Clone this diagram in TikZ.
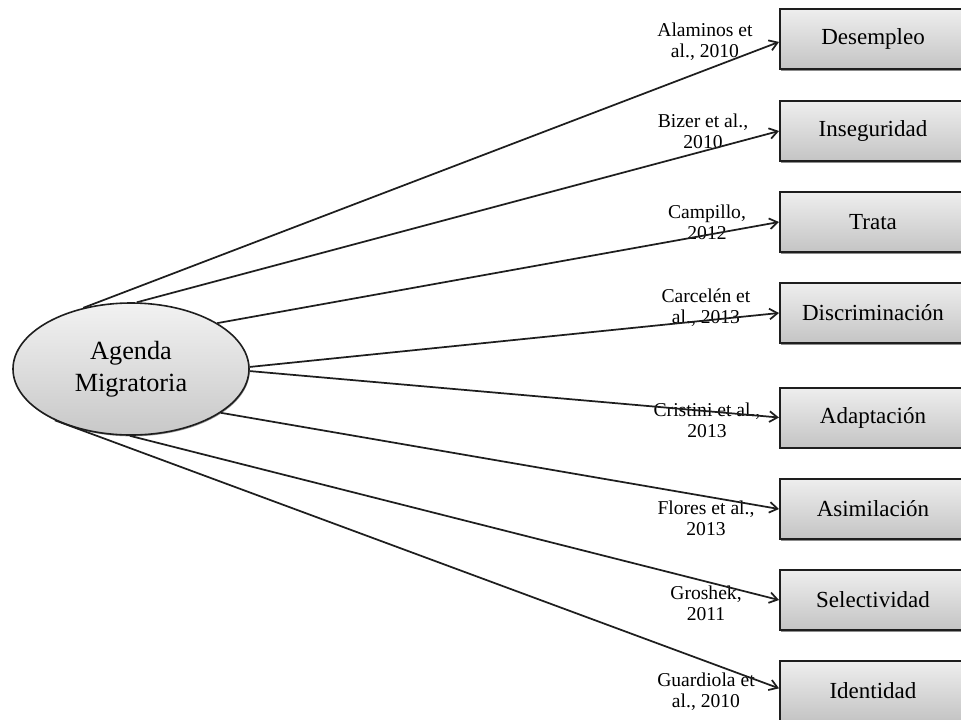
\documentclass[tikz,border=0pt]{standalone}
\usepackage{fontspec}
\setmainfont{Liberation Serif}
\usetikzlibrary{arrows.meta,shapes.geometric,shadows}
\definecolor{boxtop}{RGB}{238,238,238}
\definecolor{boxbot}{RGB}{196,196,196}
\definecolor{elltop}{RGB}{242,242,242}
\definecolor{ellbot}{RGB}{200,200,200}
\definecolor{inkline}{RGB}{30,30,30}
\tikzset{
  topic/.style={rectangle, draw=inkline, line width=1.5pt, inner sep=0pt,
    minimum width=139.5pt, minimum height=45pt,
    top color=boxtop, bottom color=boxbot,
    drop shadow={shadow xshift=0.8pt, shadow yshift=-1.2pt, fill=black, opacity=0.45},
    font=\fontsize{17.25}{20}\selectfont},
  agenda/.style={ellipse, draw=inkline, line width=1.2pt, inner sep=0pt,
    minimum width=177pt, minimum height=99pt,
    top color=elltop, bottom color=ellbot, align=center,
    drop shadow={shadow xshift=0.6pt, shadow yshift=-1pt, fill=black, opacity=0.4},
    font=\fontsize{19.7}{24}\selectfont},
  cite/.style={align=center, inner sep=0pt, font=\fontsize{14.7}{15.8}\selectfont},
  conn/.style={draw=inkline, line width=1.3pt,
    -{Straight Barb[length=6pt,width=8pt,line width=1.3pt]}}
}
\begin{document}
\begin{tikzpicture}[x=0.75pt,y=-0.75pt]
\useasboundingbox (0,0) rectangle (961,719);
\clip (0,0) rectangle (961,719);
\fill[white] (0,0) rectangle (961,719);

\node[agenda] (ag) at (131,369) {Agenda\\Migratoria};

\node[topic] (b1) at (873,39) {Desempleo};
\node[topic] (b2) at (873,131) {Inseguridad};
\node[topic] (b3) at (873,222) {Trata};
\node[topic] (b4) at (873,313) {Discriminación};
\node[topic] (b5) at (873,417.5) {Adaptación};
\node[topic] (b6) at (873,509) {Asimilación};
\node[topic] (b7) at (873,600) {Selectividad};
\node[topic] (b8) at (873,691) {Identidad};

\node[cite] (c1) at (705,42) {Alaminos et\\al., 2010};
\node[cite] (c2) at (703,131) {Bizer et al.,\\2010};
\node[cite] (c3) at (707,222) {Campillo,\\2012};
\node[cite] (c4) at (706,308) {Carcelén et\\al., 2013};
\node[cite] (c5) at (707,420) {Cristini et al.,\\2013};
\node[cite] (c6) at (706,518) {Flores et al.,\\2013};
\node[cite] (c7) at (706,603) {Groshek,\\2011};
\node[cite] (c8) at (706,692) {Guardiola et\\al., 2010};

\draw[conn] (ag.128) -- ([yshift=-2.2pt]b1.west);
\draw[conn] (ag.85) -- (b2.west);
\draw[conn] (ag.28) -- (b3.west);
\draw[conn] (ag.1) -- (b4.west);
\draw[conn] (ag.-1) -- (b5.west);
\draw[conn] (ag.-26) -- (b6.west);
\draw[conn] (ag.-91) -- (b7.west);
\draw[conn] (ag.-146) -- ([yshift=2pt]b8.west);
\end{tikzpicture}
\end{document}
